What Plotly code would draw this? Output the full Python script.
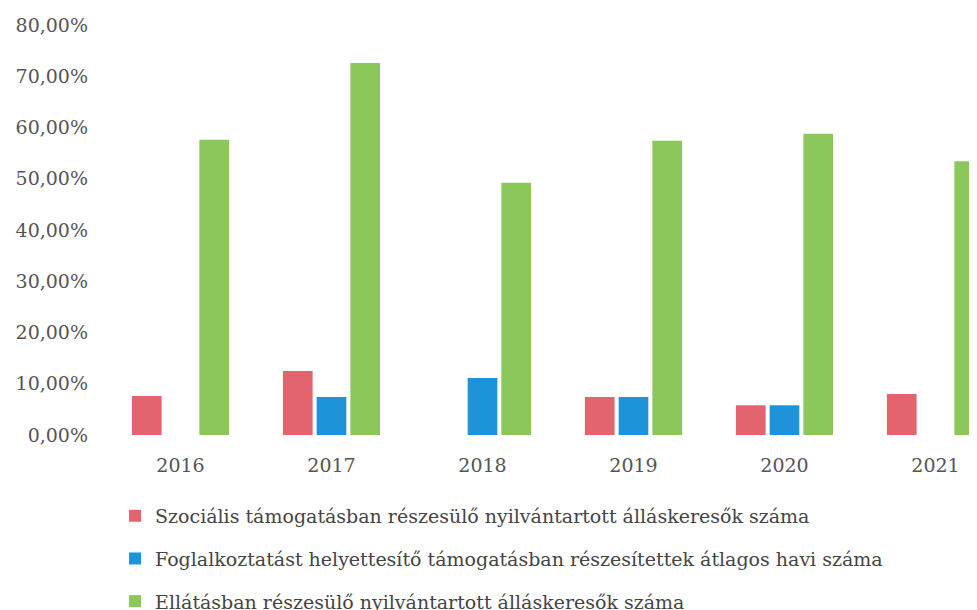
#!/usr/bin/env python3

import plotly.graph_objects as go

# data (share, 0-1)
years = ["2016", "2017", "2018", "2019", "2020", "2021"]
szocialis = [0.076, 0.125, None, 0.074, 0.058, 0.080]
foglalkoztatast = [None, 0.074, 0.111, 0.074, 0.058, None]
ellatas = [0.576, 0.726, 0.492, 0.574, 0.588, 0.534]

series_names = [
    "Szociális támogatásban részesülő nyilvántartott álláskeresők száma",
    "Foglalkoztatást helyettesítő támogatásban részesítettek átlagos havi száma",
    "Ellátásban részesülő nyilvántartott álláskeresők száma",
]
y_ticks = [0, 0.1, 0.2, 0.3, 0.4, 0.5, 0.6, 0.7, 0.8]
y_labels = ["0,00%", "10,00%", "20,00%", "30,00%", "40,00%",
            "50,00%", "60,00%", "70,00%", "80,00%"]

colors = ["#E3646E", "#1F93DA", "#8CC75B"]

fig = go.Figure()
for i, (name, vals) in enumerate(zip(series_names, [szocialis, foglalkoztatast, ellatas])):
    fig.add_trace(go.Bar(
        x=years, y=vals, name=name,
        marker=dict(color=colors[i], line=dict(width=0)),
        legendgroup=str(i),
    ))

# the page body adds an 8px margin, so the margins here are shifted by that;
# the figure is a bit taller than the window so the legend's last line gets
# cut at the bottom edge like in the scan
fig.update_layout(
    width=977, height=640,
    margin=dict(l=97, r=0, t=17, b=213),
    paper_bgcolor="white", plot_bgcolor="white",
    barmode="group", bargap=0.33, bargroupgap=0.12,
    font=dict(family="DejaVu Serif", color="#555555"),
    showlegend=True,
    legend=dict(
        x=0.0114, xanchor="left",
        y=-0.151, yanchor="top",
        orientation="v",
        traceorder="grouped",
        tracegroupgap=15,
        font=dict(family="DejaVu Serif", size=19, color="#444444"),
        bgcolor="rgba(0,0,0,0)",
    ),
)
fig.update_xaxes(
    range=[-0.5, 5.328],
    showgrid=False, showline=False, zeroline=False,
    ticks="", tickfont=dict(size=19, color="#555555"),
    ticklabelstandoff=17,
)
fig.update_yaxes(
    range=[0, 0.8],
    tickvals=y_ticks, ticktext=y_labels,
    showgrid=False, showline=False, zeroline=False,
    ticks="", tickfont=dict(size=19, color="#555555"),
    ticklabelstandoff=16,
)

# no scrollbar for the overflowing bottom/right
fig.write_html("out.html", post_script="document.body.style.overflow = 'hidden';")
